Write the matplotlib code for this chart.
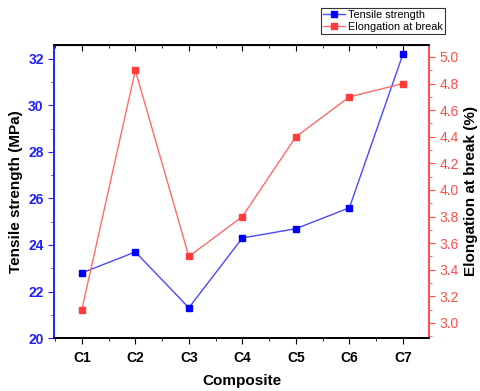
import matplotlib
matplotlib.use('Agg')
import matplotlib.pyplot as plt
from matplotlib.ticker import MultipleLocator

# data
composites = ['C1', 'C2', 'C3', 'C4', 'C5', 'C6', 'C7']
tensile = [22.8, 23.7, 21.3, 24.3, 24.7, 25.6, 32.2]
elongation = [3.1, 4.9, 3.5, 3.8, 4.4, 4.7, 4.8]

blue = '#2020ff'
red = '#ff4d4d'

plt.rcParams['font.family'] = 'Liberation Sans'

fig = plt.figure(figsize=(4.8, 3.91), dpi=100)
ax = fig.add_axes([0.1125, 0.1355, 0.7815, 0.7495])
xs = list(range(1, len(composites) + 1))

l1, = ax.plot(xs, tensile, color='#4a4aff', lw=1.0, marker='s', ms=4.5,
              mfc='#0000ff', mec='#0000ff', label='Tensile strength')
ax2 = ax.twinx()
l2, = ax2.plot(xs, elongation, color='#ff6b6b', lw=1.0, marker='s', ms=4.5,
               mfc='#ff3b3b', mec='#ff3b3b', label='Elongation at break')

ax.set_xlim(0.48, 7.49)
ax.set_ylim(20, 32.6)
ax2.set_ylim(2.887, 5.09)

ax.set_xticks(xs)
ax.set_xticklabels(composites, fontweight='bold', fontsize=10)
ax.xaxis.set_minor_locator(MultipleLocator(0.5))
ax.yaxis.set_major_locator(MultipleLocator(2))
ax.yaxis.set_minor_locator(MultipleLocator(1))
ax2.yaxis.set_major_locator(MultipleLocator(0.2))
ax2.yaxis.set_minor_locator(MultipleLocator(0.1))

ax.tick_params(axis='x', which='both', direction='out', top=False)
ax.tick_params(axis='x', which='major', length=4, pad=5)
ax.tick_params(axis='x', which='minor', length=2.5)
ax.tick_params(axis='y', which='major', colors=blue, length=4, labelsize=10)
ax.tick_params(axis='y', which='minor', colors=blue, length=2.5)
ax2.tick_params(axis='y', which='major', colors=red, length=4, labelsize=10)
ax2.tick_params(axis='y', which='minor', colors=red, length=2.5)
for lab in ax.get_yticklabels():
    lab.set_fontweight('bold')

# top ticks pointing inward
sec = ax.secondary_xaxis('top')
sec.set_xticks(xs)
sec.set_xticklabels([])
sec.xaxis.set_minor_locator(MultipleLocator(0.5))
sec.tick_params(which='both', direction='in')
sec.tick_params(which='major', length=4)
sec.tick_params(which='minor', length=2.5)

ax.spines['left'].set_color(blue)
ax2.spines['left'].set_color(blue)
ax2.spines['right'].set_color(red)
ax.spines['right'].set_color(red)
for s in ['left', 'right', 'top', 'bottom']:
    ax2.spines[s].set_linewidth(1.2)
    ax.spines[s].set_linewidth(1.2)

ax.set_xlabel('Composite', fontweight='bold', fontsize=11, labelpad=7)
ax.set_ylabel('Tensile strength (MPa)', fontweight='bold', fontsize=11)
ax2.set_ylabel('Elongation at break (%)', fontweight='bold', fontsize=11)

leg = fig.legend(handles=[l1, l2], loc='upper right', bbox_to_anchor=(0.928, 0.98),
                 fontsize=7.8, frameon=True, fancybox=False, edgecolor='black',
                 borderpad=0.2, handlelength=2.0, handletextpad=0.3,
                 labelspacing=0.2, borderaxespad=0)
leg.get_frame().set_linewidth(0.8)

fig.savefig('out.png', dpi=100)
